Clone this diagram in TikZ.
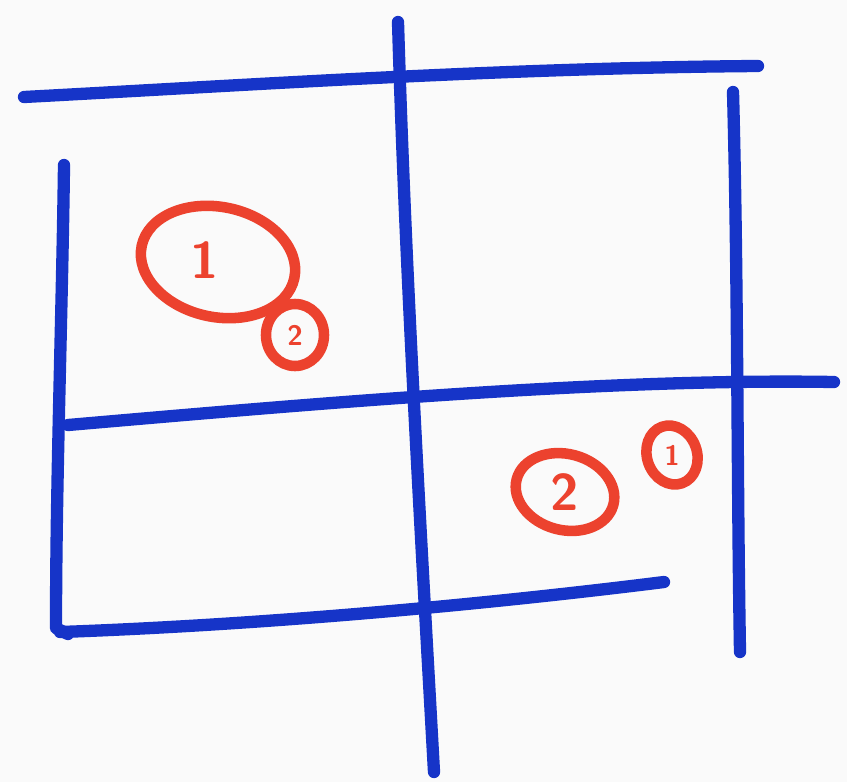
\documentclass[tikz,border=0pt]{standalone}
\usepackage{xcolor}
\usepackage{tikz}
\usetikzlibrary{calc}
\definecolor{penblue}{RGB}{22,52,200}
\definecolor{penred}{RGB}{236,66,46}
\tikzset{gridline/.style = {penblue, line width=10.5pt, line cap=round, line join=round}}
\tikzset{ring/.style = {draw=penred, line width=9pt}}
\tikzset{bigdigit/.style = {text=penred, font=\sffamily\bfseries\fontsize{44}{44}\selectfont}}
\tikzset{smalldigit/.style = {text=penred, inner sep=0pt, font=\sffamily\bfseries\fontsize{24}{24}\selectfont}}

\begin{document}
\begin{tikzpicture}[x=0.03cm, y=-0.03cm]

\fill[white!98!black] (0,0) rectangle (847,782);
\useasboundingbox (0,0) rectangle (847,782);

\draw[gridline] (24,97) .. controls (250,85) and (500,68) .. (758,66);
\draw[gridline] (398,22) .. controls (405,260) and (420,520) .. (434,772);
\draw[gridline] (733,92) .. controls (738,280) and (737,480) .. (740,652);
\draw[gridline] (64,165) .. controls (62,320) and (56,480) .. (56,628) -- (68,634);
\draw[gridline] (68,425) .. controls (300,405) and (600,378) .. (834,382);
\draw[gridline] (60,632) .. controls (260,625) and (480,605) .. (664,582);

\node[bigdigit] (one) at (205,260) {1};
\node[smalldigit] (oneb) at (295,335) {2};
\node[bigdigit] (two) at (565,492) {2};
\node[smalldigit] (twob) at (672,455) {1};

\draw[ring, rotate around={-12:(218,262)}] (218,262) ellipse [x radius=78, y radius=55];
\draw[ring] (oneb) ellipse [x radius=29, y radius=31];
\draw[ring, rotate around={-15:(two)}] (two) ellipse [x radius=50, y radius=38];
\draw[ring, rotate around={20:(twob)}] (twob) ellipse [x radius=25, y radius=30];
\end{tikzpicture}
\end{document}
